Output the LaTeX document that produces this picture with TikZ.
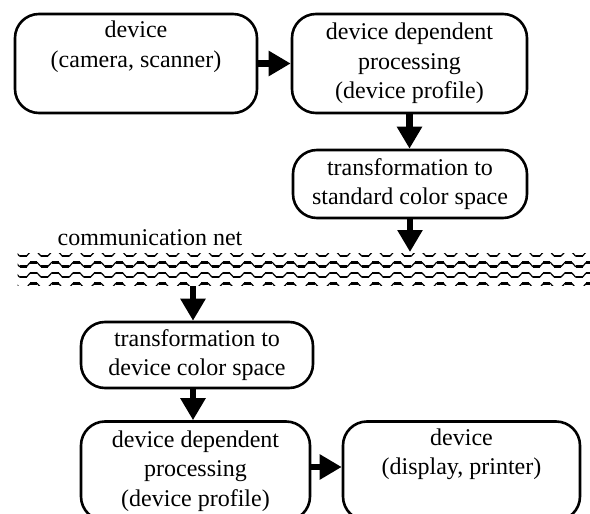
\documentclass[tikz,border=0pt]{standalone}
\usepackage{fontspec}
\setmainfont{Liberation Serif}
\usetikzlibrary{arrows.meta}
\tikzset{
  box/.style={draw, line width=2.6pt, rounded corners=24pt, inner sep=0pt,
    align=center, font=\fontsize{24}{29.5}\selectfont},
  flow/.style={line width=6.5pt, -{Triangle[length=22pt,width=24pt]}},
  wave/.style={line width=1.2pt, line join=miter},
  flat/.style={line width=2.6pt}
}
\begin{document}
\begin{tikzpicture}[x=1pt,y=-1pt]
\useasboundingbox (0,0) rectangle (590,514);
\clip (0,0) rectangle (590,514);
\fill[white] (0,0) rectangle (590,514);

\node[box, minimum width=242pt, minimum height=99pt] (b1) at (136,63.5)
  {device\\(camera, scanner)\\\strut};
\node[box, minimum width=235pt, minimum height=99pt] (b2) at (409.5,63.5)
  {device dependent\\processing\\(device profile)};
\node[box, minimum width=234pt, minimum height=68pt] (b3) at (410,184)
  {transformation to\\standard color space};
\node[box, minimum width=232pt, minimum height=66pt] (b4) at (197,355)
  {transformation to\\device color space};
\node[box, minimum width=229pt, minimum height=99pt] (b5) at (195.5,471)
  {device dependent\\processing\\(device profile)};
\node[box, minimum width=237pt, minimum height=99pt] (b6) at (461.5,471)
  {device\\(display, printer)\\\strut};

\node[font=\fontsize{24}{29.5}\selectfont, inner sep=0pt] (lbl) at (150,238) {communication net};

% communication net
\begin{scope}
  \clip (17.5,253.4) rectangle (591,285.2);
  \foreach \c in {254,264.5,275,285.5} {
    \draw[wave] (-1.885,\c+2) \foreach \k in {1,...,29} {
      -- ++(7,0) -- ++(3.6925,-4) -- ++(7,0) -- ++(3.6925,4) };
    \draw[flat] (-1.885,\c+2) \foreach \k in {1,...,29} {
      -- ++(7,0) ++(3.6925,-4) -- ++(7,0) ++(3.6925,4) };
  }
\end{scope}

\coordinate (n1) at (410,252);
\coordinate (n2) at (193,286);

\draw[flow] (b1.east) -- (b2.west);
\draw[flow] (b2.south) -- (b2.south |- b3.north);
\draw[flow] (b3.south) -- (b3.south |- n1);
\draw[flow] (n2) -- (n2 |- b4.north);
\draw[flow] (b4.south -| n2) -- (b5.north -| n2);
\draw[flow] ([yshift=4pt]b5.east) -- ([yshift=4pt]b6.west);
\end{tikzpicture}
\end{document}
